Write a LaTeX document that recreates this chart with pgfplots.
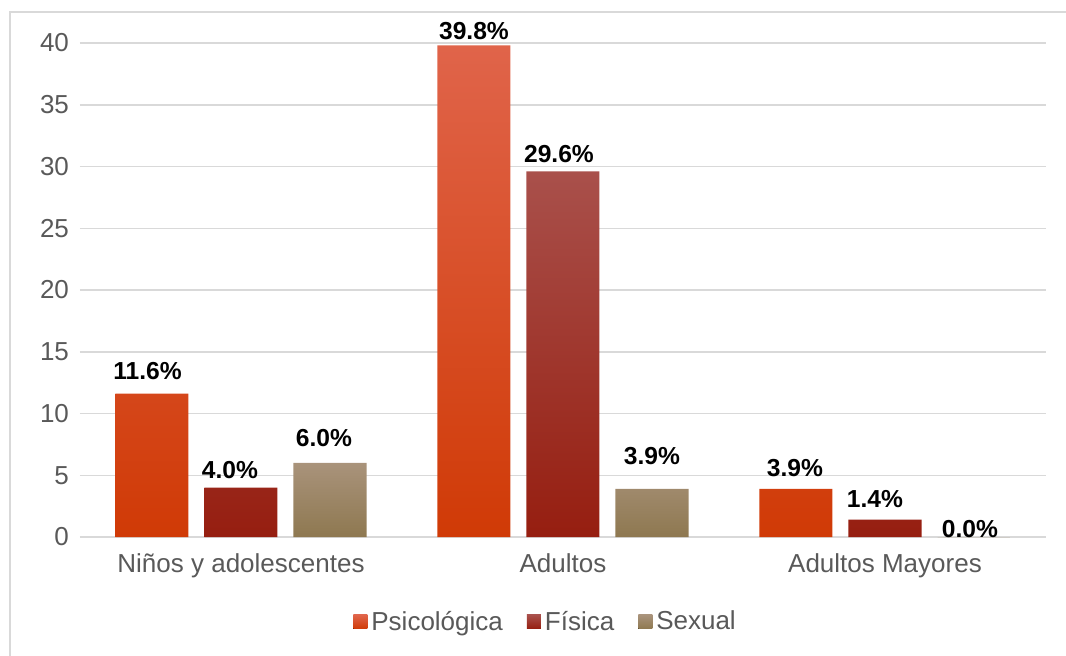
\documentclass[border=0pt]{standalone}
\usepackage{fontspec}
\setmainfont{Liberation Sans}
\usepackage{pgfplots}
\usepackage{pgfplotstable}
\pgfplotsset{compat=1.18}

\definecolor{PsiTop}{HTML}{E0644A}
\definecolor{PsiBot}{HTML}{D03A06}
\definecolor{FisTop}{HTML}{A9504B}
\definecolor{FisBot}{HTML}{961E10}
\definecolor{SexTop}{HTML}{A9937B}
\definecolor{SexBot}{HTML}{8E7850}
\definecolor{GridGray}{HTML}{D9D9D9}
\definecolor{TextGray}{HTML}{595959}

% x = group, y = value, dx/dy = label nudge (pt)
\pgfplotstableread{
x y    dx   dy
0 11.6 -2.2 4
1 39.8 0    -0.5
2 3.9  -0.5 3
}\psicologica
\pgfplotstableread{
x y    dx   dy
0 4.0  -5.5 1
1 29.6 -2   1
2 1.4  -5   3
}\fisica
\pgfplotstableread{
x y    dx   dy
0 6.0  -3   5
1 3.9  0    9
2 0.0  -2   -3.5
}\sexual

\begin{document}
\begin{tikzpicture}
\useasboundingbox (-40pt,-59pt) rectangle (493pt,268.5pt);
\draw[GridGray, line width=0.9pt] (-35pt,-60pt) -- (-35pt,262.5pt) -- (494pt,262.5pt);
\begin{axis}[
    scale only axis,
    width=483pt, height=247pt,
    at={(0pt,0pt)}, anchor=south west,
    ybar=8pt, bar width=36.5pt,
    xmin=-0.5, xmax=2.5,
    ymin=0, ymax=40,
    xtick={0,1,2},
    xticklabels={Niños y adolescentes, Adultos, Adultos Mayores},
    ytick={0,5,...,40},
    ymajorgrids,
    grid style={GridGray, line width=0.75pt},
    axis x line*=bottom,
    axis y line*=left,
    y axis line style={draw=none},
    x axis line style={GridGray, line width=0.75pt, -},
    major tick length=0pt,
    tick style={draw=none},
    every tick label/.append style={font=\fontsize{13}{15.6}\selectfont, text=TextGray},
    /pgf/number format/assume math mode=true,
    yticklabel style={xshift=-2pt},
    xticklabel style={yshift=-5pt},
    visualization depends on={\thisrow{dx} \as \dx},
    visualization depends on={\thisrow{dy} \as \dy},
    nodes near coords={\pgfmathprintnumber[fixed,fixed zerofill,precision=1]{\pgfplotspointmeta}\%},
    every node near coord/.append style={font=\fontsize{12.3}{14}\selectfont\bfseries,
        text=black, inner sep=3pt, xshift=\dx pt, yshift=\dy pt},
    legend style={at={(0.483,-0.172)}, anchor=center, draw=none,
        legend columns=-1, font=\fontsize{13}{15.6}\selectfont, text=TextGray,
        /tikz/every even column/.append style={column sep=10pt}},
    legend image code/.code={\fill[#1] (0pt,-3.5pt) rectangle (7pt,3.5pt);},
]
\addplot[draw=none, top color=PsiTop, bottom color=PsiBot] table[x=x, y=y] {\psicologica};
\addplot[draw=none, top color=FisTop, bottom color=FisBot] table[x=x, y=y] {\fisica};
\addplot[draw=none, top color=SexTop, bottom color=SexBot] table[x=x, y=y] {\sexual};
\legend{Psicológica, Física, Sexual}
\end{axis}
\end{tikzpicture}
\end{document}
